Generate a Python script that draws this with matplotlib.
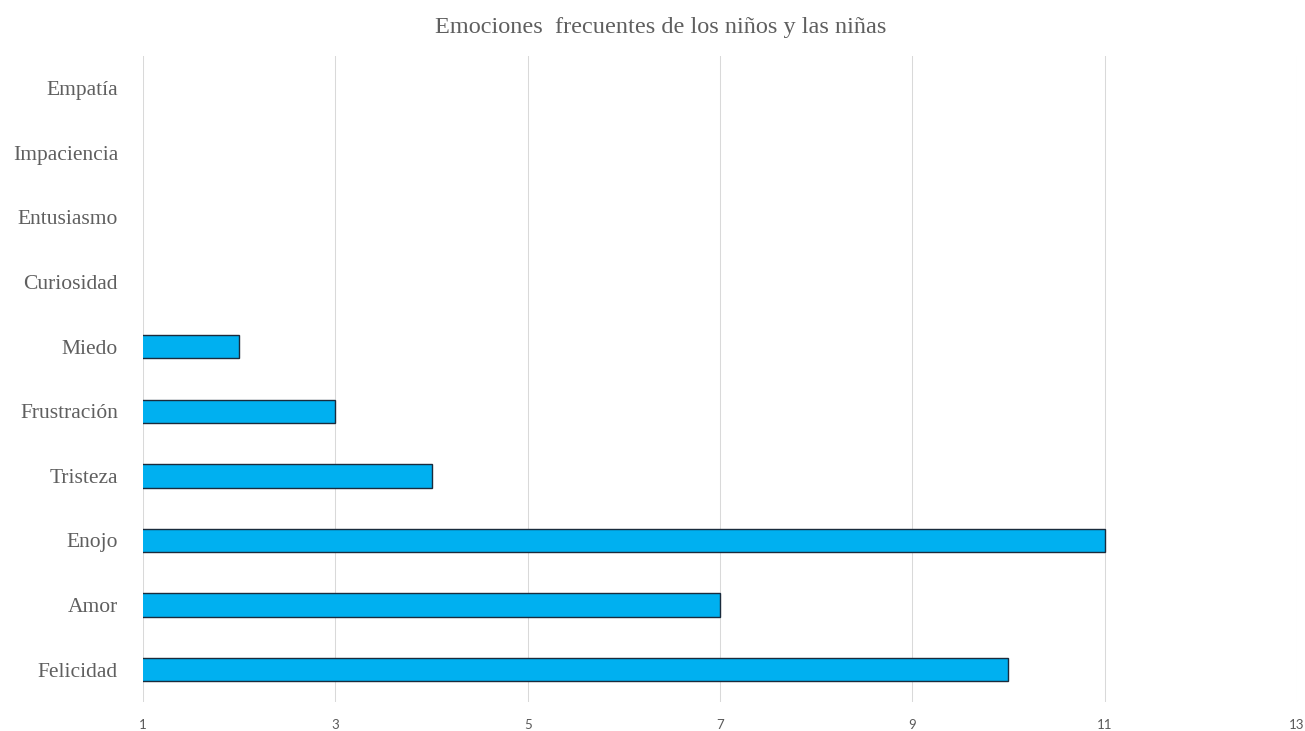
import matplotlib.pyplot as plt

categorias = ['Felicidad', 'Amor', 'Enojo', 'Tristeza', 'Frustración',
              'Miedo', 'Curiosidad', 'Entusiasmo', 'Impaciencia', 'Empatía']
valores = [10, 7, 11, 4, 3, 2, 0, 0, 0, 0]
ticks_x = [1, 3, 5, 7, 9, 11, 13]

fig = plt.figure(figsize=(13.05, 7.31), dpi=100)
ax = fig.add_axes([143/1305, 1 - 702/731, (1297-143)/1305, (702-56)/731])

pos = range(len(categorias))
ax.barh(pos, valores, height=0.36, color='#00B0F0', edgecolor='#1a2b3c',
        linewidth=1.0, zorder=3)

ax.set_xlim(1, 13)
ax.set_ylim(-0.5, len(categorias) - 0.5)
ax.set_xticks(ticks_x)
ax.set_yticks(list(pos))
ax.set_yticklabels(categorias, family='Liberation Serif', fontsize=15.5, color='#5f5f5f')
for lab in ax.get_xticklabels():
    lab.set_family('Lato')
    lab.set_fontsize(9.5)
    lab.set_color('#595959')
ax.tick_params(axis='both', length=0)
ax.tick_params(axis='y', pad=18)
ax.tick_params(axis='x', pad=12)

ax.grid(axis='x', color='#d9d9d9', linewidth=0.75, zorder=0)
for s in ax.spines.values():
    s.set_visible(False)

fig.text(661/1305, 1 - 28/731, 'Emociones  frecuentes de los niños y las niñas',
         ha='center', va='center', family='Liberation Serif', fontsize=17.5,
         color='#5f5f5f')

fig.savefig('out.png', dpi=100)
